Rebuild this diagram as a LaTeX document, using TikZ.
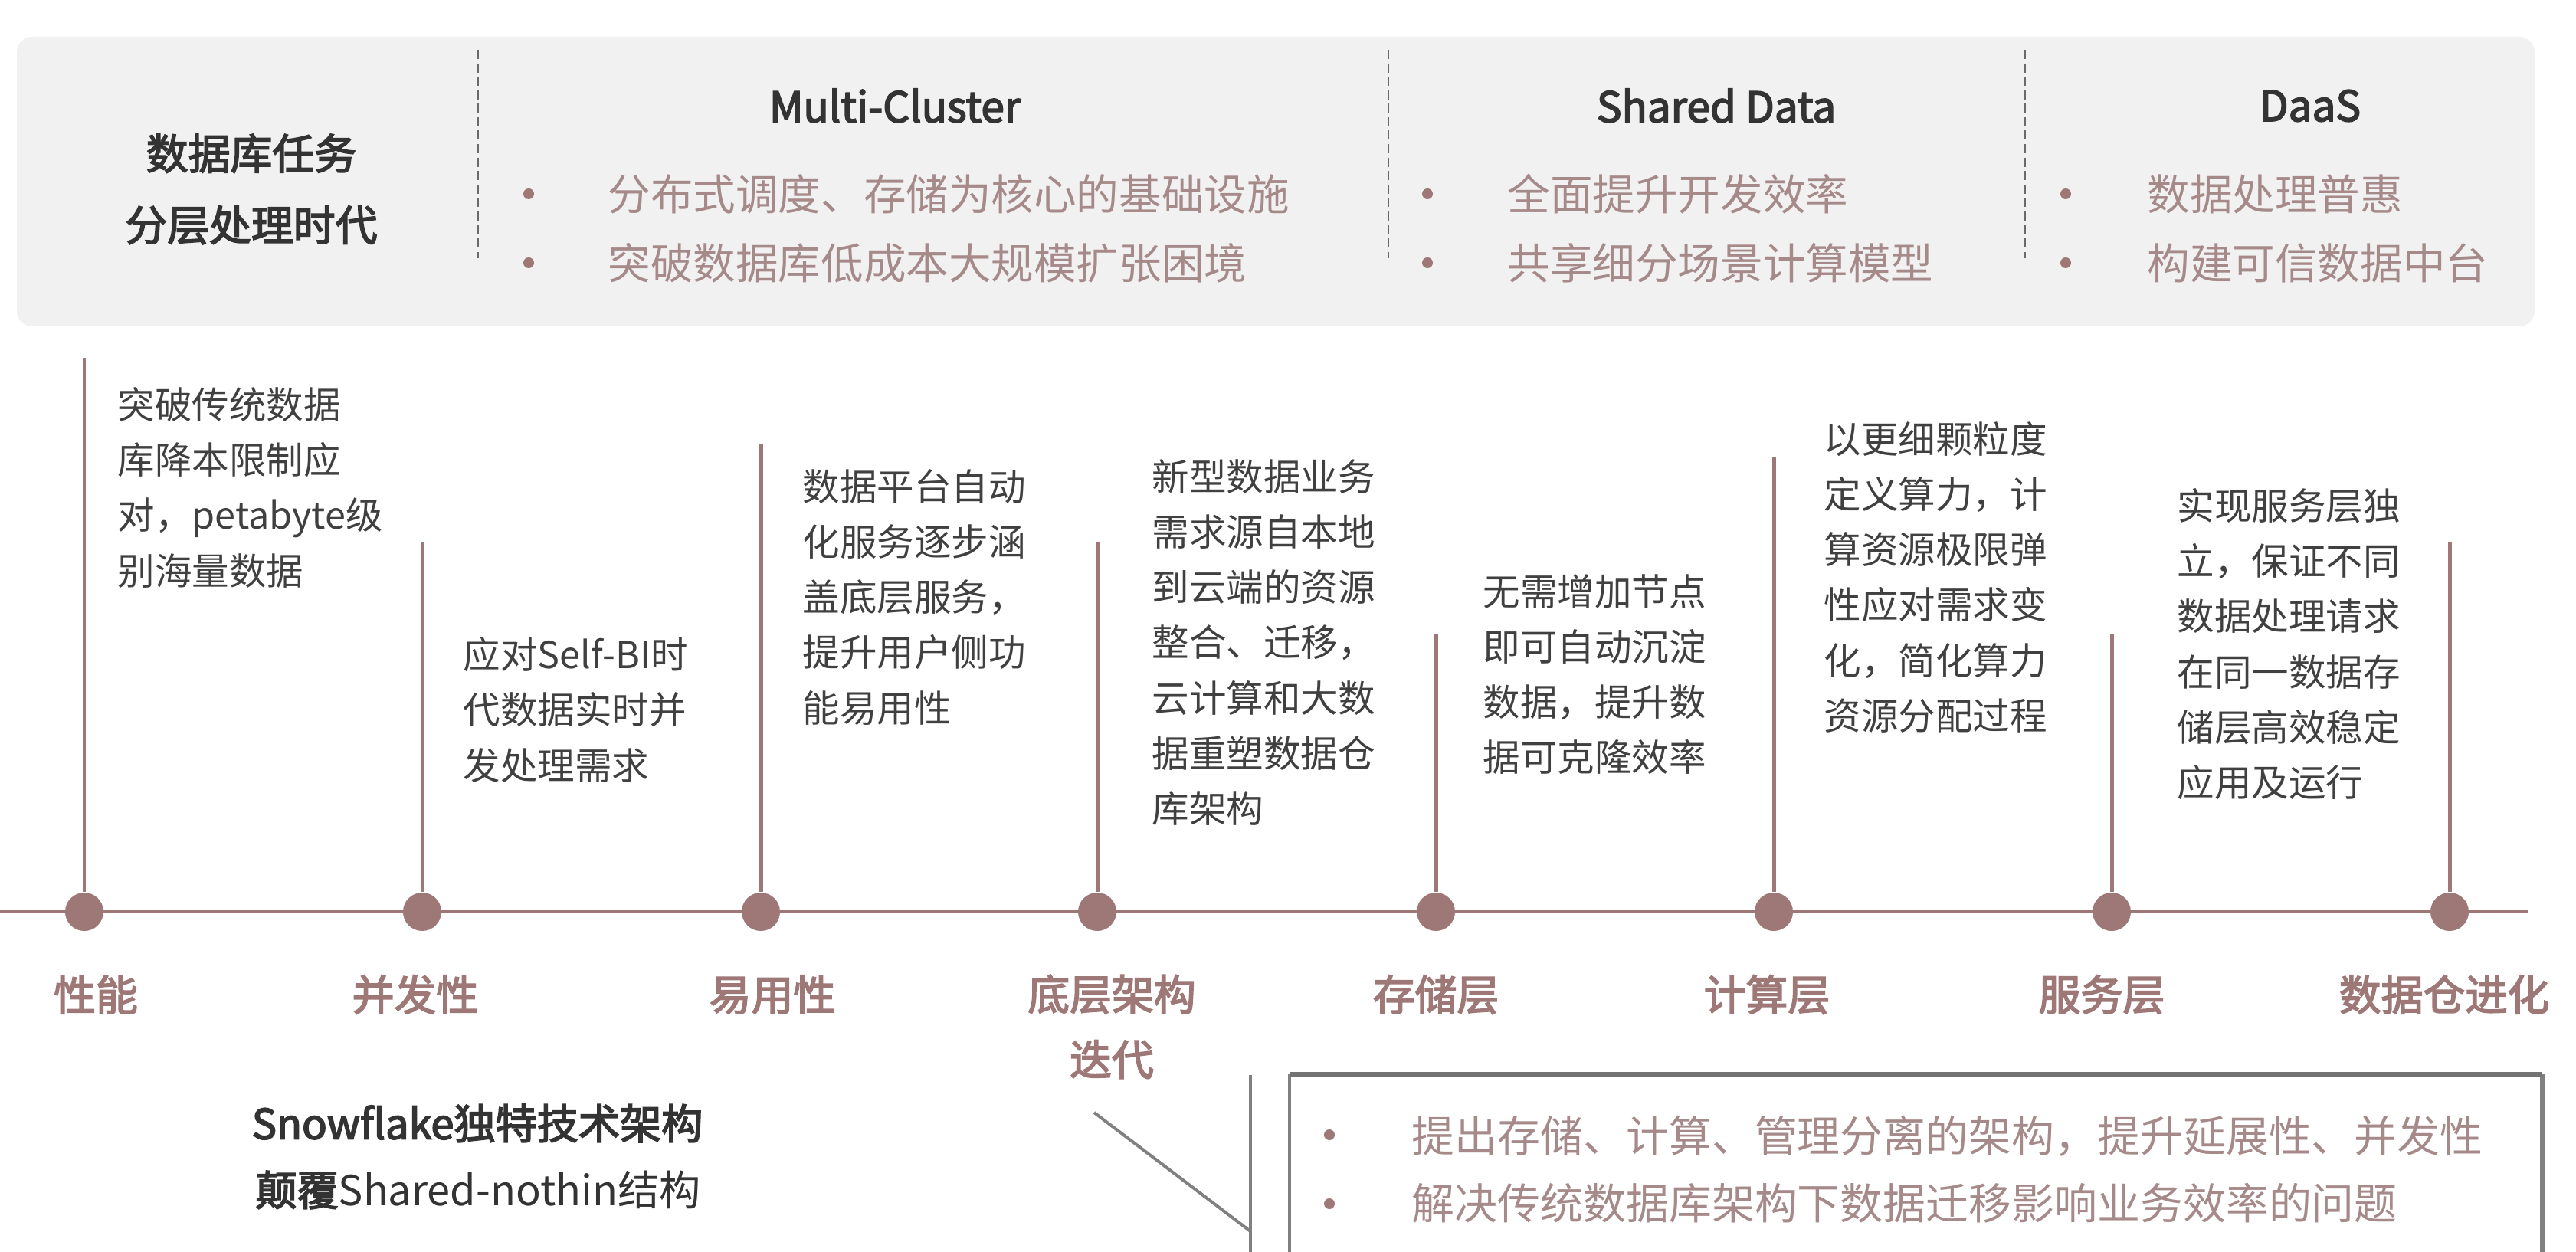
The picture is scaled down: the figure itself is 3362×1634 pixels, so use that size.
\documentclass[tikz,border=0pt]{standalone}
\usepackage{fontspec}
\setmainfont{Noto Sans CJK SC}
\newfontfamily\medfont{Noto Sans CJK SC}[FakeBold=3]
\definecolor{rose}{HTML}{9E7777}
\definecolor{roselt}{HTML}{A68A8A}
\definecolor{ink}{HTML}{404040}
\definecolor{headink}{HTML}{333333}
\definecolor{panel}{HTML}{F1F1F1}
\definecolor{sepgray}{HTML}{6A6A6A}
\definecolor{callgray}{HTML}{808080}
\begin{document}
\begin{tikzpicture}[x=0.01cm,y=-0.01cm,
  sepline/.style={sepgray,line width=0.6pt,dash pattern=on 3.4pt off 1.6pt},
  headtxt/.style={inner sep=0,text=headink,font=\medfont\fontsize{15.6}{20}\selectfont},
  titletxt/.style={inner sep=0,text=headink,align=center,font=\medfont\fontsize{15.6}{26.5}\selectfont},
  bdot/.style={circle,fill=rose,inner sep=0,minimum size=0.14cm},
  btxt/.style={inner sep=0,anchor=west,text=roselt,font=\fontsize{15.8}{20}\selectfont},
  ctxt/.style={inner sep=0,anchor=west,text=roselt,font=\fontsize{15.9}{20}\selectfont},
  axis/.style={rose,line width=1.42pt},
  stem/.style={rose,line width=1.42pt},
  tdot/.style={circle,fill=rose,inner sep=0,minimum size=0.5cm},
  desc/.style={inner sep=0,anchor=north west,align=left,text=ink,font=\fontsize{13.8}{20.5}\selectfont},
  lbl/.style={inner sep=0,text=rose,align=center,font=\medfont\fontsize{15.6}{24.2}\selectfont},
  snow/.style={inner sep=0,text=headink,font=\fontsize{15.4}{20}\selectfont},
  callline/.style={callgray,line width=1.14pt}
]
\useasboundingbox (0,0) rectangle (3362,1634);

% top panel
\fill[panel,rounded corners=0.2cm] (22,48) rectangle (3308,426);
\draw[sepline] (624,65) -- (624,337);
\draw[sepline] (1812,65) -- (1812,337);
\draw[sepline] (2643,65) -- (2643,337);

\node[titletxt] (era) at (328,247) {数据库任务\\分层处理时代};

\node[headtxt] (hMC) at (1168,138) {Multi-Cluster};
\node[headtxt] (hSD) at (2240,138) {Shared Data};
\node[headtxt] (hDS) at (3015,138) {DaaS};

\node[bdot] (mcb1) at (690,253) {};
\node[bdot] (mcb2) at (690,343) {};
\node[btxt] (mct1) at (793,253) {分布式调度、存储为核心的基础设施};
\node[btxt] (mct2) at (793,343) {突破数据库低成本大规模扩张困境};

\node[bdot] (sdb1) at (1863,253) {};
\node[bdot] (sdb2) at (1863,343) {};
\node[btxt] (sdt1) at (1967,253) {全面提升开发效率};
\node[btxt] (sdt2) at (1967,343) {共享细分场景计算模型};

\node[bdot] (dsb1) at (2696,253) {};
\node[bdot] (dsb2) at (2696,343) {};
\node[btxt] (dst1) at (2802,253) {数据处理普惠};
\node[btxt] (dst2) at (2802,343) {构建可信数据中台};

% timeline axis
\coordinate (ax0) at (0,1190);
\coordinate (ax1) at (3299,1190);
\draw[axis] (ax0) -- (ax1);

% milestones: dot, stem top, label
\foreach \n/\x/\top in {1/110/467, 2/551/708, 3/993/580, 4/1432/708,
                        5/1874/827, 6/2315/597, 7/2756/827, 8/3197/708}{
  \coordinate (s\n) at (\x,\top);
  \node[tdot] (m\n) at (\x,1190) {};
  \draw[stem] (m\n) -- (s\n);
}

\node[lbl] (l1) at (125,1298) {性能};
\node[lbl] (l2) at (542,1298) {并发性};
\node[lbl] (l3) at (1008,1298) {易用性};
\node[lbl] (l4) at (1451,1340) {底层架构\\迭代};
\node[lbl] (l5) at (1874,1298) {存储层};
\node[lbl] (l6) at (2306,1298) {计算层};
\node[lbl] (l7) at (2743,1298) {服务层};
\node[lbl] (l8) at (3190,1298) {数据仓进化};

% descriptions
\node[desc] (d1) at (153,505) {突破传统数据\\库降本限制应\\对，petabyte级\\别海量数据};
\node[desc] (d2) at (604,831) {应对Self-BI时\\代数据实时并\\发处理需求};
\node[desc] (d3) at (1047,612) {数据平台自动\\化服务逐步涵\\盖底层服务，\\提升用户侧功\\能易用性};
\node[desc] (d4) at (1503,599) {新型数据业务\\需求源自本地\\到云端的资源\\整合、迁移，\\云计算和大数\\据重塑数据仓\\库架构};
\node[desc] (d5) at (1935,749) {无需增加节点\\即可自动沉淀\\数据，提升数\\据可克隆效率};
\node[desc] (d6) at (2380,550) {以更细颗粒度\\定义算力，计\\算资源极限弹\\性应对需求变\\化，简化算力\\资源分配过程};
\node[desc] (d7) at (2841,637) {实现服务层独\\立，保证不同\\数据处理请求\\在同一数据存\\储层高效稳定\\应用及运行};

% Snowflake note
\node[snow] (sf1) at (623,1466) {\medfont Snowflake独特技术架构};
\node[snow] (sf2) at (624,1553) {{\medfont 颠覆}Shared-nothin结构};

% callout pointer and box
\coordinate (cpA) at (1428,1452);
\coordinate (cpB) at (1632,1607);
\coordinate (cpT) at (1632,1403);
\coordinate (cpE) at (1632,1634);
\draw[callline] (cpA) -- (cpB);
\draw[callline] (cpT) -- (cpE);
\coordinate (bxBL) at (1683,1634);
\coordinate (bxTL) at (1683,1402);
\coordinate (bxTR) at (3318,1402);
\coordinate (bxBR) at (3318,1634);
\draw[callline] (bxBL) -- (bxTL);
\draw[callline,line width=1.5pt] (bxTR) -- (bxBR);
\draw[callgray!90!black,line width=1.8pt] (bxTL) -- (bxTR);

\node[bdot] (cb1) at (1735,1481) {};
\node[bdot] (cb2) at (1735,1571) {};
\node[ctxt] (ct1) at (1842,1483) {提出存储、计算、管理分离的架构，提升延展性、并发性};
\node[ctxt] (ct2) at (1842,1570) {解决传统数据库架构下数据迁移影响业务效率的问题};
\end{tikzpicture}
\end{document}
